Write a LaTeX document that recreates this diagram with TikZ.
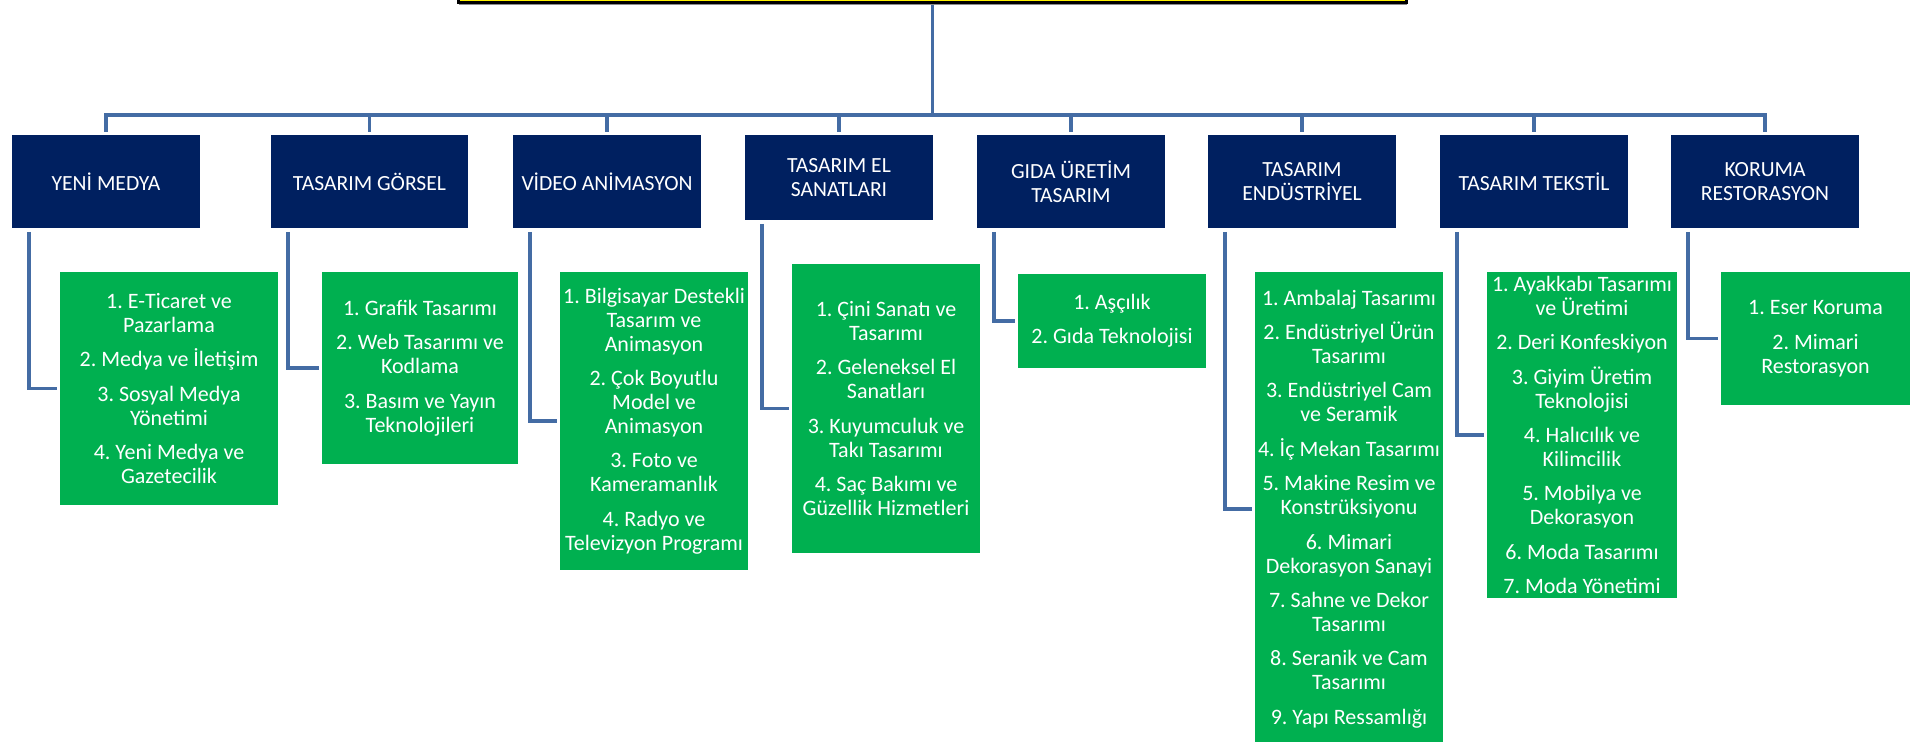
\documentclass[tikz,border=0pt]{standalone}
\usepackage{fontspec}
\setmainfont{Carlito}
\usetikzlibrary{shadows}
\definecolor{navy}{HTML}{002060}
\definecolor{grn}{HTML}{00B050}
\definecolor{lnblue}{RGB}{68,108,164}
\newcommand{\gp}{\\[5.2pt]}
\frenchspacing
\begin{document}
\begin{tikzpicture}[x=0.5pt,y=-0.5pt,
  catbox/.style={anchor=north west, fill=navy, text=white, inner sep=0pt, outer sep=0pt,
    align=center, font=\fontsize{10.8}{12}\selectfont\frenchspacing},
  subbox/.style={anchor=north west, fill=grn, text=white, inner sep=0pt, outer sep=0pt,
    align=center, font=\fontsize{11}{12}\selectfont\frenchspacing},
  topbox/.style={anchor=south, fill=yellow, draw=black, line width=1.5pt, outer sep=0pt,
    minimum width=474pt, minimum height=20pt,
    drop shadow={shadow xshift=0pt, shadow yshift=-1.5pt, fill=black!45, opacity=1}},
  conn/.style={draw=lnblue, line width=1.8pt}]
\useasboundingbox (0,0) rectangle (1914,742);

% top box
\node[topbox] (top) at (932.5,2.5) {};

% category boxes
\node[catbox, minimum width=94pt,   minimum height=46.5pt] (c1) at (12,135)   {YENİ MEDYA};
\node[catbox, minimum width=98.5pt, minimum height=46.5pt] (c2) at (271,135)  {TASARIM GÖRSEL};
\node[catbox, minimum width=94pt,   minimum height=46.5pt] (c3) at (513,135)  {VİDEO ANİMASYON};
\node[catbox, minimum width=94pt,   minimum height=42.5pt] (c4) at (745,135)  {TASARIM EL\\SANATLARI};
\node[catbox, minimum width=94pt,   minimum height=46.5pt] (c5) at (977,135)  {GIDA ÜRETİM\\TASARIM};
\node[catbox, minimum width=94pt,   minimum height=46.5pt] (c6) at (1208,135) {TASARIM\\ENDÜSTRİYEL};
\node[catbox, minimum width=94pt,   minimum height=46.5pt] (c7) at (1440,135) {TASARIM TEKSTİL};
\node[catbox, minimum width=94pt,   minimum height=46.5pt] (c8) at (1671,135) {KORUMA\\RESTORASYON};

% sub boxes
\node[subbox, minimum width=109pt, minimum height=116.5pt] (g1) at (60,272)
  {1. E-Ticaret ve\\Pazarlama\gp 2. Medya ve İletişim\gp 3. Sosyal Medya\\Yönetimi\gp 4. Yeni Medya ve\\Gazetecilik};
\node[subbox, minimum width=98pt, minimum height=96pt] (g2) at (322,272)
  {1. Grafik Tasarımı\gp 2. Web Tasarımı ve\\Kodlama\gp 3. Basım ve Yayın\\Teknolojileri};
\node[subbox, minimum width=94pt, minimum height=149pt] (g3) at (560,272)
  {1. Bilgisayar Destekli\\Tasarım ve\\Animasyon\gp 2. Çok Boyutlu\\Model ve\\Animasyon\gp 3. Foto ve\\Kameramanlık\gp 4. Radyo ve\\Televizyon Programı};
\node[subbox, minimum width=94pt, minimum height=144.5pt] (g4) at (792,264)
  {1. Çini Sanatı ve\\Tasarımı\gp 2. Geleneksel El\\Sanatları\gp 3. Kuyumculuk ve\\Takı Tasarımı\gp 4. Saç Bakımı ve\\Güzellik Hizmetleri};
\node[subbox, minimum width=94pt, minimum height=47pt] (g5) at (1018,274)
  {1. Aşçılık\gp 2. Gıda Teknolojisi};
\node[subbox, minimum width=94pt, minimum height=237pt] (g6) at (1255,272)
  {1. Ambalaj Tasarımı\gp 2. Endüstriyel Ürün\\Tasarımı\gp 3. Endüstriyel Cam\\ve Seramik\gp 4. İç Mekan Tasarımı\gp 5. Makine Resim ve\\Konstrüksiyonu\gp 6. Mimari\\Dekorasyon Sanayi\gp 7. Sahne ve Dekor\\Tasarımı\gp 8. Seranik ve Cam\\Tasarımı\gp 9. Yapı Ressamlığı};
\node[subbox, minimum width=95pt, minimum height=163pt] (g7) at (1487,272)
  {1. Ayakkabı Tasarımı\\ve Üretimi\gp 2. Deri Konfeskiyon\gp 3. Giyim Üretim\\Teknolojisi\gp 4. Halıcılık ve\\Kilimcilik\gp 5. Mobilya ve\\Dekorasyon\gp 6. Moda Tasarımı\gp 7. Moda Yönetimi};
\node[subbox, minimum width=94.5pt, minimum height=66.5pt] (g8) at (1721,272)
  {1. Eser Koruma\gp 2. Mimari\\Restorasyon};

% trunk and bus
\coordinate (bus) at (0,115);
\draw[conn] ([yshift=-1.5pt]top.south) -- (top.south |- bus);
\draw[conn] ([yshift=1.5pt]c1.north) -- (c1.north |- bus) -- (c8.north |- bus) -- ([yshift=1.5pt]c8.north);
\foreach \i in {2,...,7} \draw[conn] (c\i.north |- bus) -- ([yshift=1.5pt]c\i.north);

% side connectors
\foreach \i in {1,...,8}
  \draw[conn] ([xshift=8.5pt,yshift=-2pt]c\i.south west) |- ([xshift=-1.5pt]g\i.west);
\end{tikzpicture}
\end{document}
